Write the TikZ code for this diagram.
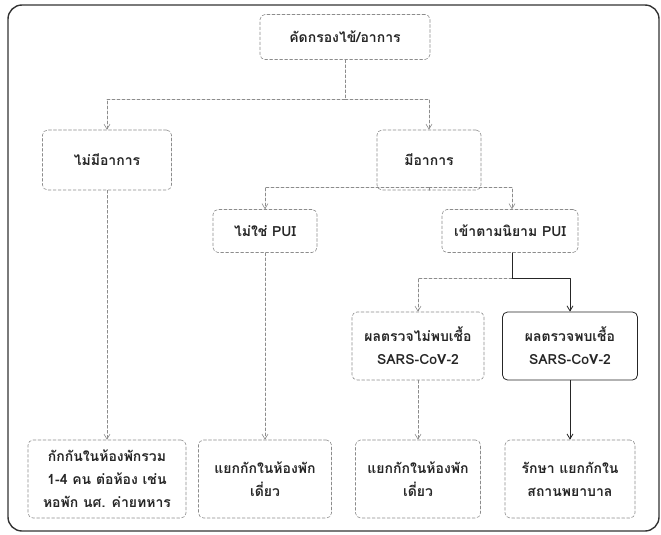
\documentclass[tikz,border=0pt]{standalone}
\usepackage{fontspec}
\newfontfamily\thaifont[Script=Thai]{Loma}
\usetikzlibrary{arrows.meta}

\begin{document}
\begin{tikzpicture}[x=1pt, y=-1pt, >={Straight Barb[length=5pt,width=6pt]},
                    line width=0.6pt, line cap=round, line join=round,
                    font=\thaifont\bfseries\fontsize{14}{23}\selectfont]
  \tikzset{
    faint/.style={draw=black!45, densely dashed},
    dark/.style={draw=black!85, line width=0.8pt},
    stepbox/.style={faint, rounded corners=5pt, align=center,
                    inner sep=0pt, text depth=0pt, text=black!85},
    link/.style={->, faint},
    strong/.style={->, dark}
  }
  % canvas and outer frame
  \useasboundingbox (0,0) rectangle (661,535);
  \draw[black!80, line width=1.4pt, rounded corners=14pt]
    (8,5) rectangle (659,531);

  % screening at the top
  \node[stepbox, minimum width=170, minimum height=45] (screen) at (345,37)
    {คัดกรองไข้/อาการ};

  % level 1: symptoms or not
  \node[stepbox, minimum width=129, minimum height=60] (nosym) at (107,160)
    {ไม่มีอาการ};
  \node[stepbox, minimum width=104, minimum height=60] (sym) at (429,160)
    {มีอาการ};

  % level 2: PUI or not
  \node[stepbox, minimum width=104, minimum height=43] (notpui) at (265,231)
    {ไม่ใช่ PUI};
  \node[stepbox, minimum width=136, minimum height=43] (pui) at (510,231)
    {เข้าตามนิยาม PUI};

  % level 3: lab results
  \node[stepbox, minimum width=132, minimum height=68] (neg) at (418,346)
    {ผลตรวจไม่พบเชื้อ\\SARS-CoV-2};
  \node[stepbox, dark, solid, minimum width=135, minimum height=68] (pos)
    at (570,346) {ผลตรวจพบเชื้อ\\SARS-CoV-2};

  % bottom row: where to isolate
  \node[stepbox, minimum width=158, minimum height=78] (dorm) at (107,479)
    {กักกันในห้องพักรวม\\1-4 คน ต่อห้อง เช่น\\หอพัก นศ. ค่ายทหาร};
  \node[stepbox, minimum width=133, minimum height=78] (single) at (265,479)
    {แยกกักในห้องพัก\\เดี่ยว};
  \node[stepbox, minimum width=125, minimum height=78] (single2) at (418,479)
    {แยกกักในห้องพัก\\เดี่ยว};
  \node[stepbox, minimum width=130, minimum height=78] (hosp) at (570,479)
    {รักษา แยกกักใน\\สถานพยาบาล};

  % branch points
  \coordinate (j1) at (345,99);
  \coordinate (j2) at (429,187);
  \coordinate (j3) at (512,278);

  % screening -> level 1
  \draw[faint] (screen.south) -- (j1);
  \draw[link] (j1) -| (nosym.north);
  \draw[link] (j1) -| (sym.north);

  % level 1 -> level 2
  \draw[faint] (sym.south) -- (j2);
  \draw[link] (j2) -| (notpui.north);
  \draw[link] (j2) -| ([xshift=2pt]pui.north);

  % level 2 -> level 3
  \draw[dark] ([xshift=2pt]pui.south) -- (j3);
  \draw[link] (j3) -| (neg.north);
  \draw[strong] (j3) -| (pos.north);

  % down to the bottom row
  \foreach \a/\b in {nosym/dorm, notpui/single, neg/single2}
    \draw[link] (\a.south) -- (\b.north);
  \draw[strong] (pos.south) -- (hosp.north);
\end{tikzpicture}
\end{document}
